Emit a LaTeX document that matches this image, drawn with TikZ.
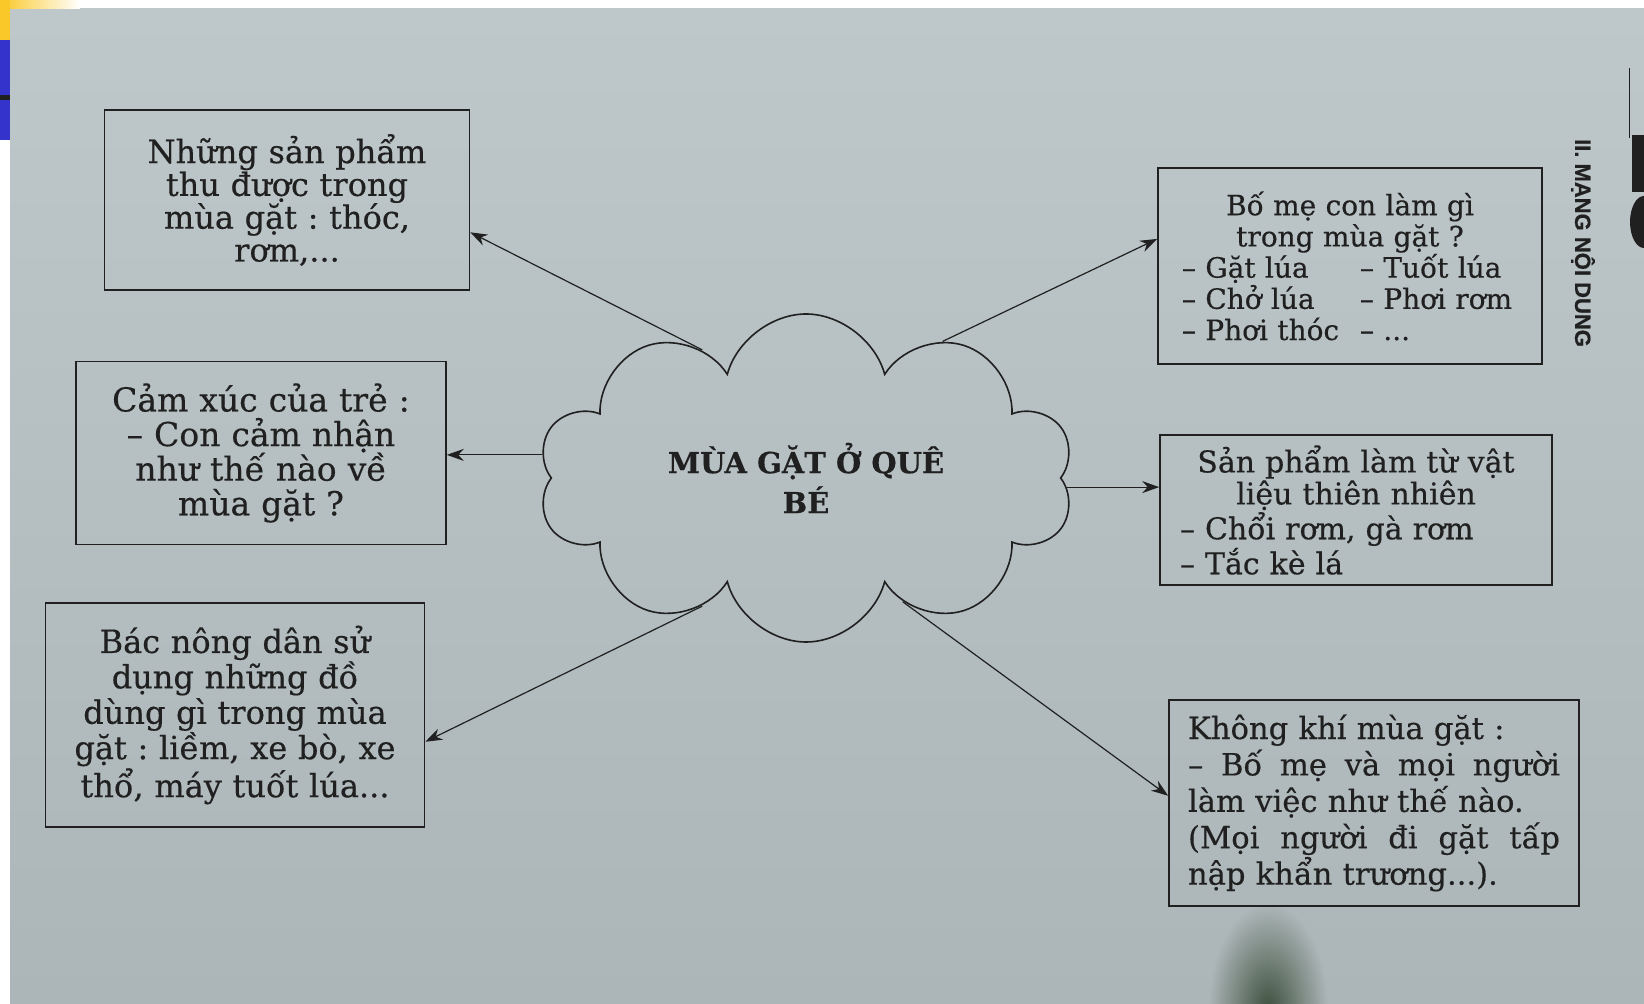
\documentclass[tikz,border=0pt]{standalone}
\usepackage{fontspec}
\setmainfont{DejaVu Serif}[FakeBold=0.4]
\newfontfamily\headfont{Liberation Sans}[FakeBold=0.6]
\usepackage{xcolor}
\usepackage{tikz}
\usetikzlibrary{positioning,shapes.symbols,arrows.meta}
\frenchspacing

\definecolor{paperhi}{RGB}{190,199,201}
\definecolor{paperlo}{RGB}{172,182,184}
\definecolor{ink}{RGB}{32,32,32}
\definecolor{shadowgreen}{RGB}{62,80,62}
\definecolor{slideblue}{RGB}{52,52,204}
\definecolor{slideyellow}{RGB}{250,200,40}

\newcommand{\listpair}[2]{\makebox[168pt][l]{\makebox[89pt][l]{#1}#2}}
\newcommand{\listrow}[1]{\makebox[176pt][l]{#1}}
\newcommand{\spreadrow}[1]{\leavevmode\hbox to 186pt{\spaceskip=0.3em plus 1fil\relax #1}}

\begin{document}
\begin{tikzpicture}[x=0.5pt,y=-0.5pt,
    box/.style={rectangle, draw=ink, thick, inner sep=0pt, text=ink},
    link/.style={draw=ink, semithick, -{Stealth[length=8.5pt,width=6pt]}}]
    \useasboundingbox (0,0) rectangle (1644,1004);
    \fill[white] (0,0) rectangle (1644,1004);
    \shade[top color=paperhi, bottom color=paperlo] (10,9) rectangle (1644,1004);
    \shade[inner color=shadowgreen, outer color=paperlo] (1268,1010) ellipse (60 and 105);
    \shade[left color=slideyellow, right color=white] (0,0) rectangle (80,9);
    \fill[slideyellow] (0,0) rectangle (10,40);
    \fill[slideblue] (0,40) rectangle (10,95);
    \fill[ink] (0,95) rectangle (10,100);
    \fill[slideblue] (0,100) rectangle (10,140);
    \draw[ink, thin] (1629,68) -- (1629,138);
    \fill[ink] (1632,135) rectangle (1644,192);
    \fill[ink] (1644,222) ellipse (14 and 26);

    \node(harvest) [cloud, cloud puffs=10, cloud ignores aspect, draw=ink, thick, minimum width=268pt, minimum height=164pt, align=center, text=ink, font=\bfseries\fontsize{14.5}{20}\selectfont] at (806,478) {MÙA GẶT Ở QUÊ\\BÉ};

    \node(products) [box, minimum width=182.5pt, minimum height=90pt, text width=176pt, align=center, font=\fontsize{16}{16.4}\selectfont] at (287,200) {Những sản phẩm\\thu được trong\\mùa gặt : thóc,\\rơm,...};
    \node(feelings) [box, minimum width=185pt, minimum height=91.5pt, text width=178pt, align=center, font=\fontsize{16.5}{17.3}\selectfont] at (261,453) {Cảm xúc của trẻ :\\– Con cảm nhận\\như thế nào về\\mùa gặt ?};
    \node(tools) [box, minimum width=189.5pt, minimum height=112pt, text width=184pt, align=center, font=\fontsize{16}{17.7}\selectfont] at (235,715) {Bác nông dân sử\\dụng những đồ\\dùng gì trong mùa\\gặt : liềm, xe bò, xe\\thổ, máy tuốt lúa...};
    \node(work) [box, minimum width=192pt, minimum height=98pt, text width=176pt, align=center, font=\fontsize{14}{15.6}\selectfont] at (1350,266) {Bố mẹ con làm gì\\trong mùa gặt ?\\\listpair{– Gặt lúa}{– Tuốt lúa}\\\listpair{– Chở lúa}{– Phơi rơm}\\\listpair{– Phơi thóc}{– ...}};
    \node(crafts) [box, minimum width=196pt, minimum height=75pt, text width=186pt, align=center, font=\fontsize{15}{16}\selectfont] at (1356,510) {Sản phẩm làm từ vật\\liệu thiên nhiên\\\listrow{– Chổi rơm, gà rơm}\\\listrow{– Tắc kè lá}};
    \node(mood) [box, minimum width=205pt, minimum height=103pt, text width=186pt, align=left, font=\fontsize{15.3}{18.2}\selectfont] at (1374,803) {Không khí mùa gặt :\\\spreadrow{– Bố mẹ và mọi người}\\làm việc như thế nào.\\\spreadrow{(Mọi người đi gặt tấp}\\nập khẩn trương...).};

    \node(section) [rotate=-90, text=ink, font=\headfont\bfseries\fontsize{11}{13}\selectfont] at (1583,243) {II. MẠNG NỘI DUNG};

    \draw[link] (harvest.129) -- (products.-10);
    \draw[link] (harvest.45) -- (work.172);
    \draw[link] (harvest.175) -- (feelings.east |- harvest.175);
    \draw[link] (harvest.-2) -- (crafts.west |- harvest.-2);
    \draw[link] (harvest.-129) -- (tools.-8);
    \draw[link] (harvest.-52) -- (mood.178);
\end{tikzpicture}
\end{document}
